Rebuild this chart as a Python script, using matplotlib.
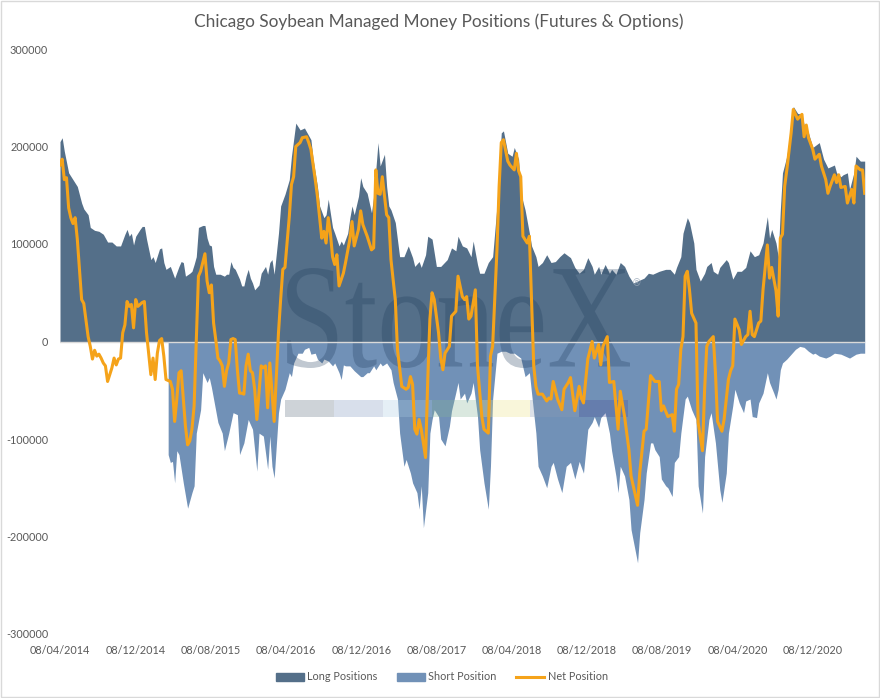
import numpy as np
import pandas as pd
import matplotlib as mpl
mpl.use('Agg')
import matplotlib.pyplot as plt
from matplotlib.patches import Patch, Rectangle, PathPatch
from matplotlib.lines import Line2D
from matplotlib.textpath import TextPath
from matplotlib.font_manager import FontProperties
from matplotlib.transforms import Affine2D

plt.rcParams['font.family'] = ['Lato', 'DejaVu Sans']

START = pd.Timestamp('2014-04-08')   # weeks counted from here (Tuesday COT report)

# long positions (thousand contracts)
long_wk = [0,1,2,4,6,8,10,11,13,14,16,18,20,22,24,26,28,30,31,32,33,34,35,37,38,39,40,42,43,44,
           46,47,48,49,51,53,55,56,57,58,60,61,62,63,64,66,67,68,69,70,71,72,74,76,77,78,79,80,81,82,
           83,84,85,86,87,88,89,90,
           92,93,95,96,97,98,99,101,102,104,106,107,109,111,113,116,117,119,120,122,123,124,126,127,129,130,
           131,133,134,135,136,138,139,140,142,144,145,147,148,150,151,152,153,155,157,159,161,163,164,166,
           167,169,170,172,174,176,179,181,
           183,184,186,188,190,191,193,194,196,198,200,202,204,205,207,209,210,212,213,215,217,218,220,221,
           223,225,227,229,231,233,236,238,240,242,244,246,247,249,250,252,254,255,257,259,261,263,265,267,
           270,272,274,
           275,277,280,282,284,285,287,288,290,291,293,294,296,298,299,301,302,304,305,308,309,311,313,315,
           317,319,321,323,325,327,328,329,331,332,333,334,336,338,339,341,343,344,346,348,351,353,355,358,
           359,361,362,364,365,367,368,370,372]
long_k = [205,209,195,173,166,159,142,136,130,117,114,113,110,102,102,98,98,110,115,108,111,99,108,115,118,118,105,84,87,81,
          95,96,81,74,77,65,77,82,81,67,70,72,79,87,117,119,119,106,99,98,77,69,69,67,69,69,82,76,74,69,
          64,57,57,67,74,65,60,53,
          58,70,77,69,81,84,69,111,139,151,166,190,224,217,219,207,187,159,139,127,130,146,117,111,98,103,
          99,111,127,139,130,149,168,159,152,132,149,204,180,192,159,139,135,122,87,87,98,86,77,82,
          76,89,108,105,77,77,84,96,
          93,108,98,96,87,103,79,70,70,81,87,139,214,216,193,190,199,187,152,135,111,98,87,77,
          81,89,81,82,87,91,86,76,70,74,86,77,69,77,69,79,70,74,69,81,77,67,60,62,
          65,70,69,
          70,72,74,74,69,76,87,111,127,122,101,74,62,70,77,81,72,69,76,84,81,64,72,72,
          76,93,87,89,101,128,106,115,101,87,135,173,190,221,241,234,233,222,214,199,204,187,178,181,
          173,169,171,173,156,173,190,185,185]

# short positions (thousand contracts, negative); series begins Jan 2015
short_wk = [50,51,52,53,54,55,57,59,61,62,63,65,66,68,69,70,71,73,75,76,78,80,82,83,85,87,89,91,92,94,
            96,97,98,99,101,102,104,106,107,108,110,112,113,115,116,118,119,121,122,124,126,127,129,130,131,132,134,136,137,139,
            140,142,143,145,146,148,149,151,153,154,156,157,159,160,162,163,165,166,167,168,170,171,172,173,175,176,178,180,181,183,
            184,185,187,188,190,191,193,194,196,198,199,200,202,204,206,208,210,213,215,217,218,220,221,223,225,227,228,230,232,234,
            236,238,240,242,244,246,247,249,250,252,254,255,257,258,259,261,263,264,267,268,270,271,273,274,275,277,278,280,281,283,
            284,286,287,289,290,292,294,295,297,298,300,301,303,305,306,308,309,311,312,314,316,317,319,320,322,323,325,327,328,330,
            331,332,333,334,336,338,340,342,344,346,348,349,351,354,356,358,361,363,365,368,370,372]
short_k = [-116,-124,-123,-145,-112,-116,-145,-171,-155,-148,-94,-70,-32,-42,-37,-47,-59,-83,-94,-112,-94,-73,-75,-116,-104,-80,-90,-133,-94,-97,
           -131,-97,-128,-140,-73,-59,-49,-32,-36,-22,-12,-12,-8,-6,-13,-12,-18,-22,-18,-20,-25,-22,-32,-39,-24,-25,-25,-30,-32,-36,
           -36,-32,-32,-25,-29,-22,-25,-22,-29,-42,-59,-94,-128,-121,-135,-145,-155,-172,-148,-191,-155,-94,-80,-70,-77,-100,-107,-87,-71,-52,
           -42,-59,-53,-63,-53,-42,-77,-111,-145,-172,-128,-59,-12,-10,-10,-12,-12,-17,-36,-32,-53,-94,-128,-138,-150,-128,-124,-141,-155,-128,
           -124,-141,-123,-135,-90,-83,-77,-88,-78,-73,-94,-112,-138,-155,-128,-138,-162,-193,-227,-196,-162,-135,-104,-104,-111,-118,-141,-148,-150,-159,
           -124,-118,-94,-59,-56,-70,-80,-148,-176,-118,-80,-73,-104,-152,-165,-135,-94,-66,-49,-63,-73,-61,-59,-77,-78,-63,-53,-32,-42,-53,
           -59,-49,-29,-22,-18,-13,-8,-5,-6,-10,-13,-12,-15,-17,-15,-12,-13,-15,-17,-13,-12,-12]

# net position (thousand contracts)
net_wk = [0,1,2,3,4,5,6,7,8,10,11,13,14,15,16,17,18,19,20,21,22,23,24,25,26,27,28,29,30,31,
          32,33,34,35,36,37,38,39,40,41,42,43,44,45,46,47,48,49,50,51,52,53,54,55,56,57,58,59,60,61,
          62,63,64,65,66,67,68,69,70,71,72,73,74,75,76,77,78,79,80,81,82,83,84,85,86,87,88,89,90,91,
          93,94,95,96,97,99,101,102,103,104,106,107,108,109,111,112,114,115,116,118,119,120,121,122,123,124,125,126,127,128,
          129,131,132,134,135,136,138,139,140,142,144,145,146,147,148,149,151,152,153,155,156,158,160,161,162,163,164,165,166,167,
          169,170,171,172,173,175,176,177,178,180,181,
          183,184,186,187,188,189,190,192,193,195,196,198,199,200,202,203,204,205,207,208,210,211,212,213,214,216,217,218,219,220,
          221,223,225,226,227,228,230,232,233,235,236,238,240,241,242,244,246,247,249,250,251,253,254,256,258,259,261,263,264,267,
          268,270,271,273,275,
          277,278,279,281,283,284,285,286,287,288,289,290,291,292,294,295,297,298,299,300,302,303,304,306,307,309,310,311,312,314,
          315,317,318,319,320,321,323,324,325,327,328,329,331,332,333,334,335,336,338,339,341,343,344,345,346,348,349,351,352,354,
          355,356,358,359,360,361,363,364,366,367,368,370,371,372]
net_k = [181,187,166,168,137,127,121,127,105,43,39,5,-5,-18,-9,-15,-13,-17,-22,-25,-41,-34,-27,-17,-24,-18,-17,9,17,41,
         36,38,14,43,36,38,40,41,9,-12,-34,-17,-39,-12,1,3,-15,-39,-40,-41,-49,-82,-59,-32,-30,-59,-87,-106,-102,-90,
         -66,2,67,72,81,90,62,50,58,19,2,-17,-20,-25,-46,-30,-22,2,3,2,-29,-53,-53,-54,-25,-13,-30,-32,-49,-80,
         -25,-27,-25,-68,-22,-82,9,43,74,76,128,161,169,200,204,209,210,204,197,166,149,128,106,113,101,127,111,87,79,89,
         57,70,81,105,123,98,115,134,120,108,94,96,176,152,151,169,130,127,84,43,-8,-46,-49,-47,-36,-44,-90,-95,-80,-90,
         -119,-40,23,50,43,9,-17,-29,-12,-5,26,
         31,67,46,43,46,23,26,53,-25,-77,-90,-94,-15,-5,94,159,204,207,185,181,176,193,175,169,108,101,108,43,-25,-46,
         -54,-54,-61,-58,-59,-41,-59,-70,-49,-42,-37,-71,-46,-58,-63,-18,0,-17,-3,-24,-5,5,-42,-41,-90,-51,-77,-111,-138,-168,
         -135,-92,-90,-35,-41,
         -41,-71,-66,-77,-75,-92,-49,-44,-8,5,67,72,53,29,19,-83,-112,-49,-5,0,5,-32,-82,-92,-80,-39,-30,-25,23,12,
         -3,5,7,31,7,5,19,21,53,99,65,76,52,26,106,110,159,176,214,238,228,233,210,222,209,197,187,192,180,166,
         152,159,171,163,171,158,159,142,156,142,180,176,176,152]

tick_dates = ['2014-04-08','2014-12-08','2015-08-08','2016-04-08','2016-12-08','2017-08-08',
              '2018-04-08','2018-12-08','2019-08-08','2020-04-08','2020-12-08']
y_ticks = [-300000,-200000,-100000,0,100000,200000,300000]

def to_dates(wk):
    return START + pd.to_timedelta(np.array(wk) * 7, unit='D')

C_LONG, C_SHORT, C_NET, C_TXT = '#546F89', '#7191B7', '#F5A31A', '#595959'

fig = plt.figure(figsize=(8.8, 6.98), dpi=100)
ax = fig.add_axes([60/880, 64/698, 805/880, 585/698])

ax.fill_between(to_dates(long_wk), np.array(long_k)*1000, 0, color=C_LONG, lw=0, zorder=1)
ax.fill_between(to_dates(short_wk), np.array(short_k)*1000, 0, color=C_SHORT, lw=0, zorder=1)
ax.axhline(0, color='#D9D9D9', lw=1.0, zorder=2.6)
ax.plot(to_dates(net_wk), np.array(net_k)*1000, color=C_NET, lw=2.2, zorder=4,
        solid_joinstyle='round')

# StoneX watermark (text path fitted to its box in the picture)
tp = TextPath((0, 0), 'StoneX', size=100, prop=FontProperties(family='Liberation Serif'))
bb = tp.get_extents()
sx, sy = 343/bb.width, 100/bb.height
tr = Affine2D().translate(-bb.x0, -bb.y0).scale(sx, sy).translate(287, 698-368) \
     .scale(1/880, 1/698) + fig.transFigure
ax.add_patch(PathPatch(tp, transform=tr, facecolor='#1E3A5A', edgecolor='none',
                       alpha=0.28, zorder=2.5, clip_on=False))
fig.text(636/880, 1-283/698, '®', fontsize=7, color='#9aa8b8', alpha=0.8,
         ha='center', va='center', family='DejaVu Sans')
strip = ['#5f6f80', '#7f98bd', '#aacbe2', '#86b598', '#ece287', '#8c9db4', '#4a5096']
for i, c in enumerate(strip):
    ax.add_patch(Rectangle(((285 + 49*i)/880, 1-417/698), 49/880, 17/698,
                           transform=fig.transFigure, facecolor=c, edgecolor='none',
                           alpha=0.3, zorder=2.5, clip_on=False))

ax.set_xlim(START, START + pd.Timedelta(days=2605))
ax.set_ylim(-300000, 300000)
ax.set_xticks(pd.to_datetime(tick_dates))
ax.set_xticklabels([pd.Timestamp(d).strftime('%d/%m/%Y') for d in tick_dates])
ax.set_yticks(y_ticks)
ax.set_yticklabels([str(v) for v in y_ticks])
ax.tick_params(length=0, colors=C_TXT, labelsize=7.8)
ax.tick_params(axis='y', pad=8.5)
ax.tick_params(axis='x', pad=8)
for s in ax.spines.values():
    s.set_visible(False)

fig.text(0.499, 1-22/698, 'Chicago Soybean Managed Money Positions (Futures & Options)',
         ha='center', va='center', fontsize=12.4, color=C_TXT)

handles = [Patch(color=C_LONG, label='Long Positions'),
           Patch(color=C_SHORT, label='Short Position'),
           Line2D([0], [0], color=C_NET, lw=2.2, label='Net Position')]
fig.legend(handles=handles, loc='center', bbox_to_anchor=(0.502, 1-677/698), ncol=3,
           frameon=False, fontsize=7.8, labelcolor=C_TXT, handlelength=2.6, handleheight=0.8,
           columnspacing=1.8, handletextpad=0.3)

fig.patches.append(Rectangle((0.001, 0.001), 0.998, 0.998, transform=fig.transFigure,
                             fill=False, edgecolor='#D9D9D9', lw=1))

fig.savefig('out.png', dpi=100)
